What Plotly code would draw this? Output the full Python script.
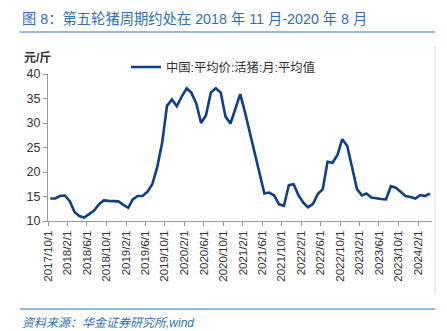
import plotly.graph_objects as go
import pandas as pd

# monthly dates 2017/10 .. 2024/4 (plotted mid-month)
start_month = "2017-10-01"
values = [14.6, 14.6, 15.1, 15.2, 14.0, 11.9, 11.0, 10.7, 11.4, 12.1,
          13.4, 14.2, 14.1, 14.0, 14.0, 13.3, 12.7, 14.4, 15.1, 15.1,
          16.0, 17.5, 21.0, 26.0, 33.5, 34.8, 33.4, 35.4, 37.1, 36.2,
          34.0, 30.0, 31.6, 36.2, 37.1, 36.2, 31.3, 29.9, 33.0, 35.9,
          32.0, 28.2, 24.1, 20.1, 15.6, 15.8, 15.2, 13.4, 13.1, 17.3,
          17.5, 15.2, 13.7, 12.8, 13.5, 15.5, 16.5, 22.1, 21.9, 23.5,
          26.7, 25.3, 20.8, 16.5, 15.2, 15.6, 14.8, 14.6, 14.5, 14.4,
          17.1, 16.8, 15.9, 15.1, 14.9, 14.6, 15.3, 15.1, 15.6]
dates = pd.date_range(start_month, periods=len(values), freq="MS") + pd.Timedelta(days=14)

tick_dates = pd.date_range("2017-10-01", "2024-02-01", freq="4MS")
tick_labels = [f"{d.year}/{d.month}/1" for d in tick_dates]

series_name = "中国:平均价:活猪:月:平均值"
title_text = "图 8：第五轮猪周期约处在 2018 年 11 月-2020 年 8 月"
source_text = "资料来源：华金证券研究所,wind"
unit_text = "元/斤"

FONT = "Arial, 'Liberation Sans', 'Noto Sans CJK SC', sans-serif"

fig = go.Figure()
fig.add_trace(go.Scatter(x=dates, y=values, mode="lines", name=series_name,
                         line=dict(color="#0E3F87", width=2.6)))

W, H = 447, 331
L, R, T, B = 48, 15, 74, 110
pw, ph = W - L - R, H - T - B

fig.update_layout(
    width=W, height=H,
    margin=dict(l=L, r=R, t=T, b=B),
    paper_bgcolor="white", plot_bgcolor="white",
    font=dict(family=FONT, size=11, color="#333333"),
    showlegend=True,
    legend=dict(x=(126 - L) / pw, y=1 + (T - 67) / ph, xanchor="left", yanchor="middle",
                bgcolor="rgba(0,0,0,0)", font=dict(size=12.3, color="#333333"),
                itemwidth=30),
    xaxis=dict(type="date", range=["2017-10-01", "2024-04-28"],
               tickmode="array", tickvals=tick_dates, ticktext=tick_labels,
               tickangle=-90, ticks="outside", ticklen=4, tickcolor="#999999",
               showline=True, linecolor="#999999", linewidth=1,
               showgrid=False, zeroline=False,
               tickfont=dict(size=11.5, color="#333333")),
    yaxis=dict(range=[10, 40], tickvals=[10, 15, 20, 25, 30, 35, 40],
               ticks="outside", ticklen=4, tickcolor="#999999",
               showline=True, linecolor="#999999", linewidth=1,
               showgrid=False, zeroline=False,
               tickfont=dict(size=12.5, color="#333333")),
)

# title
fig.add_annotation(xref="paper", yref="paper", x=(20 - L) / pw, y=1 + (T - 18) / ph,
                   xanchor="left", yanchor="middle", showarrow=False,
                   text=title_text, font=dict(size=14.3, color="#2E6FB7", family=FONT))
# unit label
fig.add_annotation(xref="paper", yref="paper", x=(22 - L) / pw, y=1 + (T - 57) / ph,
                   xanchor="left", yanchor="middle", showarrow=False,
                   text="<b>" + unit_text + "</b>", font=dict(size=12, color="#333333", family=FONT))
# source
fig.add_annotation(xref="paper", yref="paper", x=(20 - L) / pw, y=-(323 - (T + ph)) / ph,
                   xanchor="left", yanchor="middle", showarrow=False,
                   text="<i>" + source_text + "</i>", font=dict(size=12, color="#2E6FB7", family=FONT))

# title underline, bottom rule, right border
fig.add_shape(type="line", xref="paper", yref="paper",
              x0=(20 - L) / pw, x1=(435 - L) / pw, y0=1 + (T - 32) / ph, y1=1 + (T - 32) / ph,
              line=dict(color="#2E77C0", width=1.2))
fig.add_shape(type="line", xref="paper", yref="paper",
              x0=(20 - L) / pw, x1=(435 - L) / pw, y0=-(309 - (T + ph)) / ph, y1=-(309 - (T + ph)) / ph,
              line=dict(color="#8CC0E3", width=2))
fig.add_shape(type="line", xref="paper", yref="paper",
              x0=(435 - L) / pw, x1=(435 - L) / pw, y0=1 + (T - 46) / ph, y1=-(295 - (T + ph)) / ph,
              line=dict(color="#D9D9D9", width=1))

fig.write_html("out.html")
